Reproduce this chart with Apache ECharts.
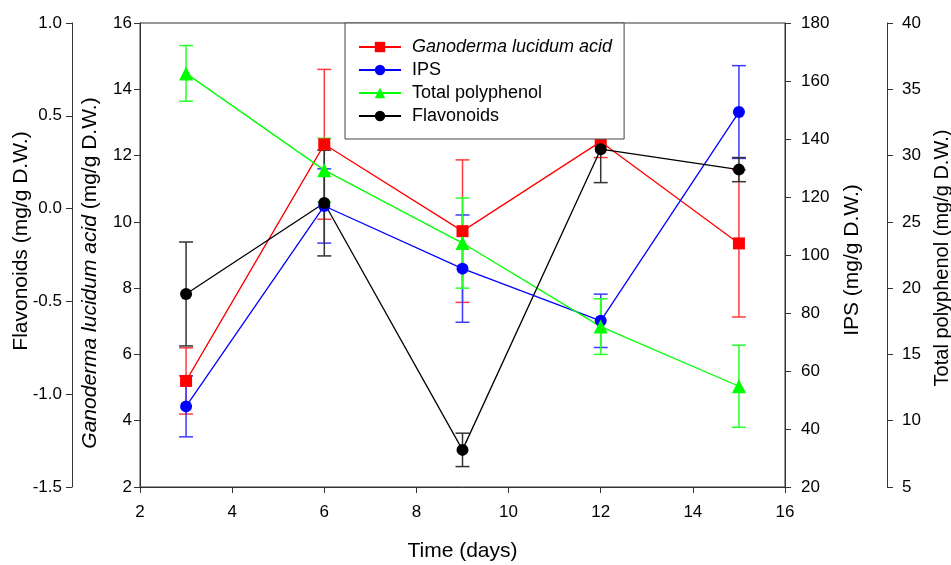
<!DOCTYPE html>
<html>
<head>
<meta charset="utf-8">
<script src="https://cdn.jsdelivr.net/npm/echarts@6/dist/echarts.min.js"></script>
<style>
  html, body { margin: 0; padding: 0; background: #fff; }
  #main { width: 951px; height: 565px; }
</style>
</head>
<body>
<div id="main"></div>
<script>
var days = [3, 6, 9, 12, 15];
var ganoderma = [5.2, 12.34, 9.72, 12.42, 9.35];
var ganodermaErr = [1.0, 2.26, 2.15, 0.48, 2.22];
var ips = [47.8, 116.9, 95.3, 77.3, 149.3];
var ipsErr = [10.5, 12.8, 18.5, 9.2, 16.0];
var polyphenol = [36.2, 28.9, 23.4, 17.1, 12.6];
var polyphenolErr = [2.1, 2.4, 3.4, 2.1, 3.1];
var flavonoids = [-0.46, 0.03, -1.3, 0.32, 0.21];
var flavonoidsErr = [0.28, 0.285, 0.09, 0.18, 0.065];
var xTicks = [2, 4, 6, 8, 10, 12, 14, 16];

var FONT = "'Liberation Sans', Arial, sans-serif";
var AXIS_COLOR = '#333';

function pts(vals) {
	return days.map(function (d, i) { return [d, vals[i]]; });
}
function errs(vals, e) {
	return days.map(function (d, i) { return [d, vals[i] - e[i], vals[i] + e[i]]; });
}
// draws vertical error bars with caps
function errorBars(color) {
	return function (params, api) {
		var x = api.value(0);
		var lo = api.coord([x, api.value(1)]);
		var hi = api.coord([x, api.value(2)]);
		var w = 7;
		var st = { stroke: color, lineWidth: 1.5 };
		return {
			type: 'group',
			children: [
				{ type: 'line', shape: { x1: hi[0] - w, y1: hi[1], x2: hi[0] + w, y2: hi[1] }, style: st },
				{ type: 'line', shape: { x1: hi[0], y1: hi[1], x2: lo[0], y2: lo[1] }, style: st },
				{ type: 'line', shape: { x1: lo[0] - w, y1: lo[1], x2: lo[0] + w, y2: lo[1] }, style: st }
			]
		};
	};
}
// namePad shifts the rotated name along the axis (left pad = up, right pad = down)
function yAxisBase(pos, offset, min, max, interval, name, gap, labelMargin, fmt, nameSize, namePad) {
	return {
		type: 'value',
		position: pos,
		offset: offset,
		min: min,
		max: max,
		interval: interval,
		name: name,
		nameLocation: 'middle',
		nameRotate: 90,
		nameGap: gap,
		nameMoveOverlap: false,
		nameTextStyle: {
			fontFamily: FONT, fontSize: nameSize, color: '#000', padding: namePad,
			rich: { i: { fontFamily: FONT, fontSize: nameSize, fontStyle: 'italic', color: '#000' } }
		},
		axisLine: { show: true, lineStyle: { color: AXIS_COLOR, width: 1 } },
		axisTick: { show: true, inside: false, length: 6, lineStyle: { color: AXIS_COLOR } },
		axisLabel: {
			fontFamily: FONT, fontSize: 17, color: '#000', margin: labelMargin,
			formatter: fmt
		},
		splitLine: { show: false }
	};
}

var chart = echarts.init(document.getElementById('main'));
var option = {
	animation: false,
	backgroundColor: '#fff',
	grid: {
		left: 140, right: 166, top: 23, bottom: 78,
		containLabel: false,
		outerBoundsMode: 'none',
		show: true, borderColor: AXIS_COLOR, borderWidth: 1, backgroundColor: 'transparent'
	},
	legend: {
		data: ['Ganoderma lucidum acid', 'IPS', 'Total polyphenol', 'Flavonoids'],
		orient: 'vertical',
		left: 345,
		top: 23,
		padding: [15, 12, 14, 13],
		itemWidth: 42,
		itemHeight: 13,
		itemGap: 5,
		backgroundColor: '#fff',
		borderColor: '#444',
		borderWidth: 1,
		z: 10,
		textStyle: {
			fontFamily: FONT, fontSize: 18, lineHeight: 18, color: '#000', padding: [0, 0, 0, 6],
			rich: { i: { fontFamily: FONT, fontSize: 18, lineHeight: 18, fontStyle: 'italic', color: '#000' } }
		},
		formatter: function (name) {
			return name === 'Ganoderma lucidum acid' ? '{i|' + name + '}' : name;
		}
	},
	xAxis: {
		type: 'value',
		min: 2, max: 16, interval: 2,
		name: 'Time (days)',
		nameLocation: 'middle',
		nameGap: 54,
		nameMoveOverlap: false,
		nameTextStyle: { fontFamily: FONT, fontSize: 21, color: '#000' },
		axisLine: { show: true, onZero: false, lineStyle: { color: AXIS_COLOR } },
		axisTick: { show: true, length: 6, lineStyle: { color: AXIS_COLOR } },
		axisLabel: {
			fontFamily: FONT, fontSize: 17, color: '#000', margin: 17,
			customValues: xTicks
		},
		splitLine: { show: false }
	},
	yAxis: [
		yAxisBase('left', 0, 2, 16, 2, '{i|Ganoderma lucidum acid} (mg/g D.W.)', 39, 8, null, 21, [0, 36, 0, 0]),
		yAxisBase('right', 0, 20, 180, 20, 'IPS (mg/g D.W.)', 57, 16, null, 21, [0, 10, 0, 0]),
		yAxisBase('right', 102, 5, 40, 5, 'Total polyphenol (mg/g D.W.)', 45, 15, null, 20, [0, 6, 0, 0]),
		yAxisBase('left', 68, -1.5, 1.0, 0.5, 'Flavonoids (mg/g D.W.)', 40, 10, function (v) { return v.toFixed(1); }, 21, [0, 0, 0, 28])
	],
	series: [
		{ name: 'gla-err', type: 'custom', yAxisIndex: 0, renderItem: errorBars('#ff3b3b'),
		  encode: { x: 0, y: [1, 2] }, data: errs(ganoderma, ganodermaErr), z: 1 },
		{ name: 'ips-err', type: 'custom', yAxisIndex: 1, renderItem: errorBars('#3b3bff'),
		  encode: { x: 0, y: [1, 2] }, data: errs(ips, ipsErr), z: 1 },
		{ name: 'tp-err', type: 'custom', yAxisIndex: 2, renderItem: errorBars('#2bff2b'),
		  encode: { x: 0, y: [1, 2] }, data: errs(polyphenol, polyphenolErr), z: 1 },
		{ name: 'fl-err', type: 'custom', yAxisIndex: 3, renderItem: errorBars('#333'),
		  encode: { x: 0, y: [1, 2] }, data: errs(flavonoids, flavonoidsErr), z: 1 },
		{
			name: 'Ganoderma lucidum acid', type: 'line', yAxisIndex: 0,
			data: pts(ganoderma), symbol: 'rect', symbolSize: 12,
			itemStyle: { color: '#ff0000' }, lineStyle: { color: '#ff0000', width: 1.3 }, z: 3
		},
		{
			name: 'IPS', type: 'line', yAxisIndex: 1,
			data: pts(ips), symbol: 'circle', symbolSize: 12,
			itemStyle: { color: '#0000ff' }, lineStyle: { color: '#0000ff', width: 1.3 }, z: 3
		},
		{
			name: 'Total polyphenol', type: 'line', yAxisIndex: 2,
			data: pts(polyphenol), symbol: 'triangle', symbolSize: 14,
			itemStyle: { color: '#00ff00' }, lineStyle: { color: '#00ff00', width: 1.3 }, z: 3
		},
		{
			name: 'Flavonoids', type: 'line', yAxisIndex: 3,
			data: pts(flavonoids), symbol: 'circle', symbolSize: 12,
			itemStyle: { color: '#000' }, lineStyle: { color: '#000', width: 1.3 }, z: 3
		}
	]
};
chart.setOption(option);
</script>
</body>
</html>
